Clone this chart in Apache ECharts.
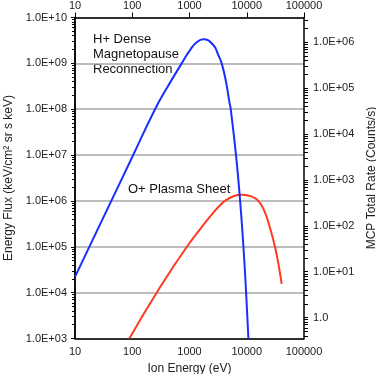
<!DOCTYPE html>
<html>
<head>
<meta charset="utf-8">
<script src="https://cdn.jsdelivr.net/npm/echarts@6/dist/echarts.min.js"></script>
<style>
  html, body { margin: 0; padding: 0; background: #fff; }
  #chart { width: 376px; height: 374px; }
</style>
</head>
<body>
<div id="chart"></div>
<script>
// H+ dense magnetopause reconnection
var hEnergy = [10, 30, 100, 250, 400, 731, 1021, 1337, 1742, 2606, 3184, 3650, 4340, 4960, 5250, 6490, 7660, 8750, 9750, 10690]
var hFlux = [2.2e4, 3.9e5, 9.1e6, 1e8, 2.86e8, 1e9, 1.95e9, 2.88e9, 3.35e9, 2.51e9, 1.52e9, 1e9, 3.98e8, 1.46e8, 1e8, 1e7, 1e6, 1e5, 1e4, 1e3]

// O+ plasma sheet
var oEnergy = [89, 300, 900, 2000, 2820, 3550, 4170, 6000, 8200, 12000, 15900, 20000, 25000, 31100, 36000, 40700]
var oFlux = [1e3, 1.26e4, 1e5, 3.7e5, 6.2e5, 8.4e5, 1e6, 1.28e6, 1.37e6, 1.26e6, 1e6, 6.3e5, 2.8e5, 1e5, 4e4, 1.55e4]

// tick labels
var xTicks = ['10', '100', '1000', '10000', '100000']
var rateExp = [0, 1, 2, 3, 4, 5, 6] // right axis, log10 of counts/s
var rateOffset = 3.456 // log10(flux) - log10(rate)

var FONT = 'Liberation Sans'

function pairs(xs, ys) {
  return xs.map(function (x, i) { return [x, ys[i]] })
}

function minorTicks(lo, hi) {
  var out = []
  for (var k = Math.floor(lo) - 1; k <= Math.ceil(hi); k++) {
    for (var m = 1; m <= 9; m++) {
      var v = k + Math.log10(m)
      if (v >= lo - 1e-9 && v <= hi + 1e-9) out.push(v)
    }
  }
  return out
}

function xLabel(v) {
  var e = Math.round(Math.log10(v))
  return xTicks[e - 1] || ''
}

var chart = echarts.init(document.getElementById('chart'))
var rateMin = 3 - rateOffset
var rateMax = 10 - rateOffset

chart.setOption({
  animation: false,
  textStyle: { fontFamily: FONT },
  grid: { left: 75, right: 72, top: 17.5, bottom: 35.5, outerBoundsMode: 'none' },
  xAxis: [{
    type: 'log',
    logBase: 10,
    min: 10,
    max: 100000,
    interval: 1,
    position: 'bottom',
    name: 'Ion Energy (eV)',
    nameLocation: 'middle',
    nameGap: 21,
    nameTextStyle: { fontSize: 12, color: '#222' },
    axisLine: { onZero: false, lineStyle: { color: '#000', width: 1.5 } },
    axisTick: { show: false },
    axisLabel: { fontSize: 11, color: '#222', margin: 8, formatter: xLabel },
    splitLine: { show: false }
  }, {
    type: 'log',
    logBase: 10,
    min: 10,
    max: 100000,
    interval: 1,
    position: 'top',
    axisLine: { onZero: false, lineStyle: { color: '#000', width: 1.5 } },
    axisTick: { show: true, length: 5, lineStyle: { color: '#000' } },
    axisLabel: { fontSize: 11, color: '#222', margin: 6, formatter: xLabel },
    splitLine: { show: false }
  }],
  yAxis: [{
    type: 'log',
    logBase: 10,
    min: 1e3,
    max: 1e10,
    interval: 1,
    position: 'left',
    name: 'Energy Flux (keV/cm² sr s keV)',
    nameLocation: 'middle',
    nameGap: 59,
    nameRotate: 90,
    nameTextStyle: { fontSize: 12, color: '#222' },
    axisLine: { onZero: false, lineStyle: { color: '#000', width: 1.5 } },
    axisTick: { show: true, length: 4, lineStyle: { color: '#000' } },
    axisLabel: {
      fontSize: 11,
      color: '#222',
      margin: 8,
      formatter: function (v) {
        var e = Math.round(Math.log10(v))
        return '1.0E+' + (e < 10 ? '0' + e : e)
      }
    },
    splitLine: { show: true, lineStyle: { color: '#a6a6a6', width: 1.5 } }
  }, {
    type: 'value',
    min: rateMin,
    max: rateMax,
    position: 'right',
    name: 'MCP Total Rate (Counts/s)',
    nameLocation: 'middle',
    nameGap: 58,
    nameRotate: 90,
    nameTextStyle: { fontSize: 12, color: '#222' },
    axisLine: { show: true, onZero: false, lineStyle: { color: '#000', width: 1.5 } },
    axisTick: {
      show: true,
      length: 4,
      customValues: minorTicks(rateMin, rateMax),
      lineStyle: { color: '#000' }
    },
    axisLabel: {
      fontSize: 11,
      color: '#222',
      margin: 9,
      customValues: rateExp,
      formatter: function (v) {
        var e = Math.round(v)
        return e === 0 ? '1.0' : '1.0E+0' + e
      }
    },
    splitLine: { show: false }
  }, {
    // minor ticks on the flux axis
    type: 'value',
    min: 3,
    max: 10,
    position: 'left',
    axisLine: { show: true, onZero: false, lineStyle: { color: '#000', width: 1.5 } },
    axisTick: {
      show: true,
      length: 3,
      customValues: minorTicks(3, 10),
      lineStyle: { color: '#000' }
    },
    axisLabel: { show: false },
    splitLine: { show: false }
  }],
  graphic: [{
    type: 'text',
    left: 93,
    top: 32,
    style: {
      text: 'H+ Dense\nMagnetopause\nReconnection',
      font: '13px "Liberation Sans"',
      lineHeight: 15,
      fill: '#111'
    }
  }, {
    type: 'text',
    left: 128,
    top: 183,
    style: {
      text: 'O+ Plasma Sheet',
      font: '13px "Liberation Sans"',
      fill: '#111'
    }
  }],
  series: [{
    name: 'O+',
    type: 'line',
    xAxisIndex: 0,
    yAxisIndex: 0,
    data: pairs(oEnergy, oFlux),
    showSymbol: false,
    smooth: 0.5,
    lineStyle: { color: '#ff3b1f', width: 2 }
  }, {
    name: 'H+',
    type: 'line',
    xAxisIndex: 0,
    yAxisIndex: 0,
    data: pairs(hEnergy, hFlux),
    showSymbol: false,
    smooth: 0.5,
    lineStyle: { color: '#1a2eff', width: 2 }
  }]
})
</script>
</body>
</html>
